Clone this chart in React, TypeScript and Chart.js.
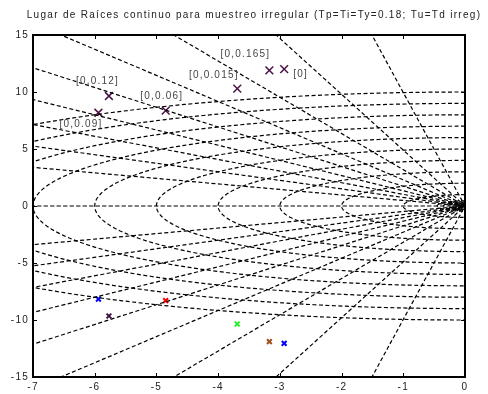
import React, { useEffect, useRef } from 'react';
import { Chart, registerables } from 'chart.js';

Chart.register(...registerables);

const TITLE = 'Lugar de Raíces continuo para muestreo irregular (Tp=Ti=Ty=0.18; Tu=Td irreg)';
const FONT = "'Liberation Sans', Arial, Helvetica, sans-serif";

// axes
const X_MIN = -7;
const X_MAX = 0;
const X_STEP = 1;
const Y_MIN = -15;
const Y_MAX = 15;
const Y_STEP = 5;

// s-plane grid (sgrid): damping ratios and natural frequencies
const dampingRatios = [0, 0.1, 0.2, 0.3, 0.4, 0.5, 0.6, 0.7, 0.8, 0.9, 1];
const naturalFreqs = [0.03, 0.06, 0.1, 0.15, 0.2, 0.27, 0.35, 0.45, 1, 2, 3, 4, 5, 6, 7, 8, 9, 10];

// closed-loop poles (real part, imaginary parts)
const polesRe = [-5.77, -5.94, -4.85, -3.69, -3.17, -2.93];
const polesImUpper = [9.65, 8.18, 8.36, 10.3, 11.9, 12.0];
const polesImLower = [-9.65, -8.16, -8.3, -10.35, -11.9, -12.05];
const poleLabels = ['[0,0.12]', '[0,0.09]', '[0,0.06]', '[0,0.015]', '[0,0.165]', '[0]'];
const lowerColors = ['#3d0f3d', '#0000ff', '#ff0000', '#22ee22', '#a0501a', '#0000ff'];

// label placement (pixel offsets from each upper pole marker)
const labelOffsets = [
  [-11.5, -15],
  [-17.5, 12],
  [-4, -14],
  [-23.5, -13],
  [-24, -16],
  [16.5, 5],
];

function radialLine(z: number) {
  const L = 40;
  const w = Math.sqrt(Math.max(0, 1 - z * z));
  return [
    { x: -z * L, y: w * L },
    { x: 0, y: 0 },
    { x: -z * L, y: -w * L },
  ];
}

function circle(wn: number) {
  const pts: { x: number; y: number }[] = [];
  const n = 160;
  for (let i = 0; i <= n; i++) {
    const a = Math.PI / 2 + (Math.PI * i) / n;
    pts.push({ x: wn * Math.cos(a), y: wn * Math.sin(a) });
  }
  return pts;
}

const framePlugin = {
  id: 'frameAndText',
  beforeDraw(chart: any) {
    (chart.ctx as any).letterSpacing = '1.25px';
  },
  afterDatasetsDraw(chart: any) {
    const { ctx, chartArea: a, scales } = chart;
    const xs = scales.x;
    const ys = scales.y;
    ctx.save();
    (ctx as any).letterSpacing = '1.2px';
    // pole labels
    ctx.font = `10px ${FONT}`;
    ctx.fillStyle = '#444444';
    ctx.textAlign = 'center';
    ctx.textBaseline = 'middle';
    polesRe.forEach((re, i) => {
      const px = xs.getPixelForValue(re) + labelOffsets[i][0];
      const py = ys.getPixelForValue(polesImUpper[i]) + labelOffsets[i][1];
      ctx.fillText(poleLabels[i], px, py);
    });
    // frame
    ctx.strokeStyle = '#000';
    ctx.lineWidth = 2;
    ctx.strokeRect(a.left, a.top, a.right - a.left, a.bottom - a.top);
    // inward ticks
    ctx.lineWidth = 1;
    ctx.beginPath();
    for (let v = X_MIN; v <= X_MAX; v += X_STEP) {
      const px = Math.round(xs.getPixelForValue(v)) + 0.5;
      ctx.moveTo(px, a.bottom);
      ctx.lineTo(px, a.bottom - 4);
      ctx.moveTo(px, a.top);
      ctx.lineTo(px, a.top + 4);
    }
    for (let v = Y_MIN; v <= Y_MAX; v += Y_STEP) {
      const py = Math.round(ys.getPixelForValue(v)) + 0.5;
      ctx.moveTo(a.left, py);
      ctx.lineTo(a.left + 4, py);
      ctx.moveTo(a.right, py);
      ctx.lineTo(a.right - 4, py);
    }
    ctx.stroke();
    // title
    (ctx as any).letterSpacing = '1.3px';
    ctx.font = `10px ${FONT}`;
    ctx.fillStyle = '#222222';
    ctx.textAlign = 'center';
    ctx.textBaseline = 'middle';
    ctx.fillText(TITLE, 254, 15);
    ctx.restore();
  },
};

export default function App() {
  const canvasRef = useRef<HTMLCanvasElement | null>(null);

  useEffect(() => {
    if (!canvasRef.current) return;
    const gridDatasets: any[] = [];
    dampingRatios.forEach((z) => {
      gridDatasets.push({
        data: radialLine(z),
        showLine: true,
        borderColor: '#000',
        borderWidth: 1.2,
        borderDash: [4, 2.5],
        pointRadius: 0,
        fill: false,
      });
    });
    naturalFreqs.forEach((wn) => {
      gridDatasets.push({
        data: circle(wn),
        showLine: true,
        borderColor: '#000',
        borderWidth: 1.2,
        borderDash: [4, 2.5],
        pointRadius: 0,
        fill: false,
      });
    });
    const upper = {
      data: polesRe.map((x, i) => ({ x, y: polesImUpper[i] })),
      showLine: false,
      pointStyle: 'crossRot',
      pointRadius: 5.5,
      pointBorderWidth: 1.5,
      pointBorderColor: '#4b1248',
      pointBackgroundColor: '#4b1248',
    };
    const lower = {
      data: polesRe.map((x, i) => ({ x, y: polesImLower[i] })),
      showLine: false,
      pointStyle: 'crossRot',
      pointRadius: 3.4,
      pointBorderWidth: 2,
      pointBorderColor: lowerColors,
      pointBackgroundColor: lowerColors,
    };

    const chart = new Chart(canvasRef.current, {
      type: 'scatter',
      data: { datasets: [...gridDatasets, upper, lower] },
      options: {
        animation: false,
        responsive: true,
        maintainAspectRatio: false,
        events: [],
        layout: { padding: { left: 0, right: 23, top: 35, bottom: 0 } },
        plugins: {
          legend: { display: false },
          tooltip: { enabled: false },
          title: { display: false },
        },
        scales: {
          x: {
            type: 'linear',
            min: X_MIN,
            max: X_MAX,
            grid: { display: false, drawTicks: false },
            border: { display: false },
            ticks: {
              stepSize: X_STEP,
              autoSkip: false,
              padding: 4,
              color: '#222',
              font: { family: FONT, size: 10 },
            },
            afterFit: (s: any) => {
              s.height = 17;
            },
          },
          y: {
            type: 'linear',
            min: Y_MIN,
            max: Y_MAX,
            grid: { display: false, drawTicks: false },
            border: { display: false },
            ticks: {
              stepSize: Y_STEP,
              autoSkip: false,
              padding: 4,
              color: '#222',
              font: { family: FONT, size: 10 },
            },
            afterFit: (s: any) => {
              s.width = 33;
            },
          },
        },
      } as any,
      plugins: [framePlugin],
    });
    return () => chart.destroy();
  }, []);

  return (
    <div style={{ position: 'absolute', left: 0, top: 0, width: 488, height: 394, background: '#fff' }}>
      <canvas ref={canvasRef} />
    </div>
  );
}
